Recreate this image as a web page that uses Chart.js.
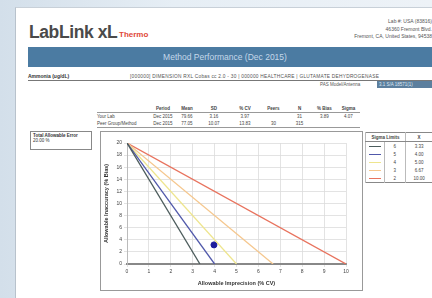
<!DOCTYPE html>
<html>
<head>
<meta charset="utf-8">
<script src="https://cdn.jsdelivr.net/npm/chart.js@4.4.0/dist/chart.umd.min.js"></script>
<style>
  html, body { margin: 0; padding: 0; }
  body {
    width: 432px; height: 298px; overflow: hidden; position: relative;
    background: linear-gradient(90deg, #d3dfea 0%, #e6eef5 40%, #edf2f7 100%);
    font-family: "Liberation Sans", Arial, sans-serif; color: #333;
  }
  .paper {
    position: absolute; left: 15px; top: 7px; width: 417px; height: 291px;
    background: #fff; border-left: 1px solid #b8c2cc; border-top: 1px solid #c8d0d8;
  }
  .abs { position: absolute; white-space: nowrap; }
  .logo { left: 13px; top: 14px; font-size: 17.5px; font-weight: bold; color: #4a4a4a; letter-spacing: -0.4px; }
  .thermo { left: 103px; top: 22px; font-size: 8px; font-weight: bold; color: #e0483a; }
  .addr { right: 1px; top: 10px; font-size: 5px; line-height: 7.5px; text-align: right; color: #555; }
  .bar { left: 12px; top: 39px; width: 405px; height: 20px; background: #4b7ba2; }
  .bar span { position: absolute; left: 0; width: 394px; top: 5px; text-align: center; font-size: 8.5px; color: #c4d8ea; }
  .analyte { left: 12px; top: 65px; font-size: 5px; font-weight: bold; color: #333; }
  .rule { position: absolute; left: 12px; top: 72px; width: 405px; height: 1px; background: #777; }
  .method { left: 114px; top: 66px; font-size: 4.8px; color: #555; letter-spacing: 0.25px; }
  .pas { left: 304px; top: 74px; font-size: 4.5px; color: #555; }
  .pasbox { left: 361px; top: 73px; width: 54px; height: 7px; background: #5c7f9e; color: #dde8f2; font-size: 4.5px; padding-left: 2px; line-height: 7px; }
  table.stats { position: absolute; left: 81px; top: 96px; border-collapse: collapse; font-size: 4.5px; color: #444; table-layout: fixed; }
  table.stats th { font-weight: bold; padding: 0; height: 8px; border-bottom: 1px solid #999; text-align: center; }
  table.stats td { padding: 0; height: 7px; text-align: center; }
  table.stats tr.last td { border-bottom: 1px solid #999; }
  table.stats td.lbl { text-align: left; }
  .tae { left: 14px; top: 123px; width: 62px; height: 19px; border: 1px solid #888; font-size: 4.5px; padding: 1px 2px; box-sizing: border-box; }
  .frame { position: absolute; left: 84px; top: 123px; width: 263px; height: 160px; border: 1px solid #999; box-sizing: border-box; }
  #wrap { position: absolute; left: 86px; top: 125px; width: 258px; height: 155px; }
  table.leg { position: absolute; left: 349px; top: 124px; border-collapse: collapse; font-size: 4.5px; color: #444; border: 1px solid #888; table-layout: fixed; }
  table.leg td, table.leg th { border-left: 1px solid #bbb; height: 8px; padding: 0; text-align: center; }
  table.leg th { border-bottom: 1px solid #888; font-weight: bold; }
  .sw { display: inline-block; width: 12px; height: 1px; vertical-align: middle; }
</style>
</head>
<body>
<div class="paper">
  <div class="abs logo">LabLink xL</div>
  <div class="abs thermo">Thermo</div>
  <div class="abs addr">Lab #: USA (83816)<br>46360 Fremont Blvd.<br>Fremont, CA, United States, 94538</div>
  <div class="abs bar"><span>Method Performance (Dec 2015)</span></div>
  <div class="abs analyte">Ammonia (ug/dL)</div>
  <div class="abs method">[000000] DIMENSION RXL Cobas cc 2.0 - 30 | 000000 HEALTHCARE | GLUTAMATE DEHYDROGENASE</div>
  <div class="rule"></div>
  <div class="abs pas">PAS Model/Antenna</div>
  <div class="abs pasbox">3.1 S/A 18571(1)</div>

  <table class="stats" id="stats"></table>

  <div class="abs tae"><b>Total Allowable Error</b><br><span id="taeVal"></span></div>

  <div class="frame"></div>
  <div id="wrap"><canvas id="chart" width="258" height="155"></canvas></div>

  <table class="leg" id="legend"></table>
</div>

<script>
const tae = 20;
const sigmaLevels = [6, 5, 4, 3, 2];
const xIntercepts = [3.33, 4.00, 5.00, 6.67, 10.00];
const sigmaColors = ["#4c5c5c", "#5058aa", "#eee58e", "#f5c78e", "#e8735e"];
const xTicks = [0, 1, 2, 3, 4, 5, 6, 7, 8, 9, 10];
const yTicks = [0, 2, 4, 6, 8, 10, 12, 14, 16, 18, 20];
const labCV = 3.97;
const labBias = 3.16;

const statHeaders = ["", "Period", "Mean", "SD", "% CV", "Peers", "N", "% Bias", "Sigma"];
const statWidths = [53, 26, 22, 32, 30, 27, 25, 25, 23];
const statRows = [
  ["Your Lab", "Dec 2015", "79.66", "3.16", "3.97", "", "31", "3.89", "4.07"],
  ["Peer Group/Method", "Dec 2015", "77.05", "10.07", "13.83", "30", "315", "", ""]
];

function buildTables() {
  const st = document.getElementById("stats");
  let html = "<tr>" + statHeaders.map((h, j) => `<th style="width:${statWidths[j]}px">${h}</th>`).join("") + "</tr>";
  statRows.forEach((r, i) => {
    html += `<tr class="${i === statRows.length - 1 ? "last" : ""}">` +
      r.map((c, j) => `<td class="${j === 0 ? "lbl" : ""}">${c}</td>`).join("") + "</tr>";
  });
  st.innerHTML = html;

  document.getElementById("taeVal").textContent = tae.toFixed(2) + " %";

  const lg = document.getElementById("legend");
  let lh = `<tr><th colspan="2" style="width:40px">Sigma Limits</th><th style="width:27px">X</th></tr>`;
  sigmaLevels.forEach((s, i) => {
    lh += `<tr><td style="width:18px"><span class="sw" style="background:${sigmaColors[i]}"></span></td><td style="width:22px">${s}</td><td>${xIntercepts[i].toFixed(2)}</td></tr>`;
  });
  lg.innerHTML = lh;
}

function renderChart() {
  const ctx = document.getElementById("chart").getContext("2d");
  const datasets = sigmaLevels.map((s, i) => ({
    type: "line",
    label: "Sigma " + s,
    data: [{ x: 0, y: tae }, { x: xIntercepts[i], y: 0 }],
    borderColor: sigmaColors[i],
    borderWidth: 1.3,
    pointRadius: 0
  }));
  datasets.push({
    type: "scatter",
    label: "Your Lab",
    data: [{ x: labCV, y: labBias }],
    backgroundColor: "#1c1c9c",
    borderColor: "#1c1c9c",
    pointRadius: 3
  });

  new Chart(ctx, {
    type: "scatter",
    data: { datasets },
    options: {
      responsive: false,
      animation: false,
      layout: { padding: { left: 0, right: 14, top: 10, bottom: 0 } },
      plugins: { legend: { display: false }, tooltip: { enabled: false } },
      scales: {
        x: {
          type: "linear", min: 0, max: 10,
          afterBuildTicks: ax => { ax.ticks = xTicks.map(v => ({ value: v })); },
          afterFit: ax => { ax.height = 24; },
          grid: { color: "#dcdcdc", lineWidth: 0.8, drawTicks: true, tickLength: 3 },
          border: { color: "#888", width: 2 },
          ticks: { font: { size: 5 }, color: "#444", padding: 2, maxRotation: 0 },
          title: { display: true, text: "Allowable Imprecision (% CV)", font: { size: 5.5, weight: "bold" }, color: "#333", padding: 1 }
        },
        y: {
          type: "linear", min: 0, max: 20,
          afterBuildTicks: ax => { ax.ticks = yTicks.map(v => ({ value: v })); },
          afterFit: ax => { ax.width = 25; },
          grid: { color: "#dcdcdc", lineWidth: 0.8, tickLength: 3 },
          border: { color: "#bbb" },
          ticks: { font: { size: 5 }, color: "#444", padding: 2 },
          title: { display: true, text: "Allowable Inaccuracy (% Bias)", font: { size: 5.5, weight: "bold" }, color: "#333", padding: 1 }
        }
      }
    }
  });
}

document.addEventListener("DOMContentLoaded", () => {
  buildTables();
  renderChart();
});
</script>
</body>
</html>
